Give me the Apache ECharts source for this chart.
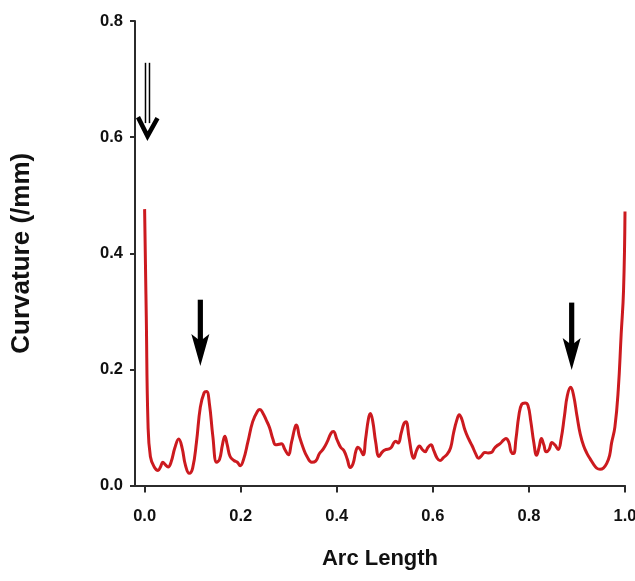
<!DOCTYPE html>
<html>
<head>
<meta charset="utf-8">
<script src="https://cdn.jsdelivr.net/npm/echarts@6/dist/echarts.min.js"></script>
<style>
  html, body { margin: 0; padding: 0; background: #ffffff; }
  #chart { width: 635px; height: 581px; }
</style>
</head>
<body>
<div id="chart"></div>
<script>
// Curvature profile along the normalised arc length
const arcLength = [
  0.000, 0.0035, 0.007, 0.012, 0.020, 0.028, 0.033, 0.038, 0.043, 0.049,
  0.055, 0.063, 0.071, 0.078, 0.085, 0.093, 0.100, 0.108, 0.116, 0.124,
  0.129, 0.135, 0.142, 0.150, 0.156, 0.162, 0.167, 0.172, 0.178, 0.186,
  0.193, 0.199, 0.206, 0.215, 0.225, 0.235, 0.240, 0.246, 0.253, 0.260,
  0.267, 0.273, 0.280, 0.285, 0.292, 0.299, 0.306, 0.313, 0.316, 0.322,
  0.330, 0.338, 0.348, 0.356, 0.364, 0.372, 0.380, 0.388, 0.393, 0.400,
  0.408, 0.415, 0.422, 0.428, 0.434, 0.440, 0.444, 0.449, 0.455, 0.460,
  0.466, 0.470, 0.475, 0.481, 0.488, 0.495, 0.503, 0.509, 0.514, 0.519,
  0.523, 0.528, 0.534, 0.540, 0.544, 0.550, 0.556, 0.560, 0.566, 0.572,
  0.578, 0.584, 0.590, 0.596, 0.602, 0.609, 0.615, 0.622, 0.630, 0.637,
  0.643, 0.650, 0.655, 0.660, 0.667, 0.674, 0.682, 0.689, 0.695, 0.702,
  0.708, 0.715, 0.722, 0.728, 0.733, 0.740, 0.747, 0.752, 0.758, 0.763,
  0.768, 0.773, 0.779, 0.785, 0.792, 0.798, 0.804, 0.810, 0.816, 0.821,
  0.826, 0.831, 0.836, 0.842, 0.848, 0.854, 0.861, 0.867, 0.874, 0.880,
  0.887, 0.893, 0.900, 0.907, 0.914, 0.921, 0.928, 0.935, 0.941, 0.948,
  0.955, 0.962, 0.968, 0.972, 0.979, 0.986, 0.992, 0.997, 1.000
];
const curvature = [
  0.476, 0.290, 0.108, 0.050, 0.032, 0.026, 0.032, 0.040, 0.036, 0.032,
  0.040, 0.065, 0.080, 0.065, 0.035, 0.021, 0.030, 0.075, 0.135, 0.160,
  0.162, 0.140, 0.085, 0.040, 0.045, 0.070, 0.085, 0.070, 0.050, 0.043,
  0.040, 0.034, 0.045, 0.075, 0.110, 0.128, 0.131, 0.125, 0.113, 0.100,
  0.080, 0.070, 0.071, 0.072, 0.062, 0.053, 0.075, 0.100, 0.104, 0.085,
  0.065, 0.050, 0.040, 0.042, 0.055, 0.063, 0.075, 0.090, 0.093, 0.080,
  0.066, 0.060, 0.045, 0.031, 0.038, 0.060, 0.066, 0.062, 0.053, 0.080,
  0.115, 0.124, 0.110, 0.075, 0.050, 0.058, 0.062, 0.063, 0.066, 0.074,
  0.076, 0.073, 0.090, 0.107, 0.110, 0.085, 0.055, 0.047, 0.060, 0.068,
  0.062, 0.058, 0.066, 0.070, 0.060, 0.047, 0.043, 0.048, 0.054, 0.065,
  0.090, 0.113, 0.122, 0.115, 0.095, 0.081, 0.068, 0.055, 0.047, 0.052,
  0.057, 0.056, 0.057, 0.064, 0.068, 0.072, 0.078, 0.081, 0.075, 0.058,
  0.055, 0.080, 0.120, 0.140, 0.142, 0.138, 0.110, 0.075, 0.052, 0.065,
  0.081, 0.070, 0.058, 0.062, 0.074, 0.070, 0.062, 0.080, 0.120, 0.155,
  0.169, 0.155, 0.120, 0.088, 0.068, 0.055, 0.045, 0.036, 0.030, 0.028,
  0.030, 0.038, 0.052, 0.073, 0.101, 0.165, 0.260, 0.337, 0.472
];

// Axis ticks
const xTicks = [0.0, 0.2, 0.4, 0.6, 0.8, 1.0];
const yTicks = [0.0, 0.2, 0.4, 0.6, 0.8];

// Annotation arrows: [arc length, curvature at tip, curvature at tail]
const solidArrows = [
  [0.116, 0.206, 0.320],
  [0.889, 0.199, 0.315]
];
const hollowArrows = [
  [0.006, 0.600, 0.728]
];

const FONT = '"Liberation Sans", Arial, sans-serif';
const AXIS_COLOR = '#2b2b2b';

const chart = echarts.init(document.getElementById('chart'), null, { renderer: 'canvas' });

chart.setOption({
  backgroundColor: '#ffffff',
  animation: false,
  grid: { left: 135, right: 10, top: 21, bottom: 95.5, containLabel: false, outerBoundsMode: 'none' },
  xAxis: {
    type: 'value',
    min: -0.02,
    max: 1.0,
    name: 'Arc Length',
    nameLocation: 'middle',
    nameGap: 62,
    nameTextStyle: { fontFamily: FONT, fontWeight: 'bold', fontSize: 22, color: '#111' },
    axisLine: { show: true, onZero: false, lineStyle: { color: AXIS_COLOR, width: 2 } },
    axisTick: { show: true, customValues: xTicks, length: 7, lineStyle: { color: AXIS_COLOR, width: 2 } },
    axisLabel: {
      customValues: xTicks,
      margin: 22,
      fontFamily: FONT, fontWeight: 'bold', fontSize: 16.5, color: '#111',
      formatter: v => v.toFixed(1)
    },
    splitLine: { show: false }
  },
  yAxis: {
    type: 'value',
    min: 0,
    max: 0.8,
    interval: 0.2,
    name: 'Curvature (/mm)',
    nameLocation: 'middle',
    nameGap: 100,
    nameTextStyle: { fontFamily: FONT, fontWeight: 'bold', fontSize: 26, color: '#111' },
    axisLine: { show: true, onZero: false, lineStyle: { color: AXIS_COLOR, width: 2 } },
    axisTick: { show: true, length: 5, lineStyle: { color: AXIS_COLOR, width: 2 } },
    axisLabel: {
      margin: 12,
      fontFamily: FONT, fontWeight: 'bold', fontSize: 16.5, color: '#111',
      formatter: v => v.toFixed(1)
    },
    splitLine: { show: false }
  },
  series: [{
    type: 'line',
    data: arcLength.map((x, i) => [x, curvature[i]]),
    showSymbol: false,
    smooth: 0.45,
    lineStyle: { color: '#cc1a1f', width: 3, join: 'round' },
    z: 3
  }]
});

// Arrows drawn in pixel space from data coordinates
function px(x, y) { return chart.convertToPixel({ gridIndex: 0 }, [x, y]); }

const graphics = [];
solidArrows.forEach(([x, yTip, yTail]) => {
  const tip = px(x, yTip), tail = px(x, yTail);
  const cx = tip[0], ty = tip[1];
  graphics.push({
    type: 'rect',
    shape: { x: cx - 2.6, y: tail[1], width: 5.2, height: (ty - 24) - tail[1] },
    style: { fill: '#000' }, z: 10
  });
  graphics.push({
    type: 'polygon',
    shape: { points: [[cx - 9, ty - 32], [cx, ty - 25], [cx + 9, ty - 32], [cx, ty]] },
    style: { fill: '#000' }, z: 10
  });
});
hollowArrows.forEach(([x, yTip, yTail]) => {
  const tip = px(x, yTip), tail = px(x, yTail);
  const cx = tip[0], ty = tip[1];
  [-2, 2].forEach(dx => {
    graphics.push({
      type: 'line',
      shape: { x1: cx + dx, y1: tail[1], x2: cx + dx, y2: ty - 14 },
      style: { stroke: '#000', lineWidth: 1.5 }, z: 10
    });
  });
  graphics.push({
    type: 'polyline',
    shape: { points: [[cx - 9.5, ty - 20], [cx, ty - 1], [cx + 10, ty - 19]] },
    style: { stroke: '#000', lineWidth: 4.5, lineJoin: 'miter', fill: null }, z: 10
  });
});
chart.setOption({ graphic: graphics });
</script>
</body>
</html>
